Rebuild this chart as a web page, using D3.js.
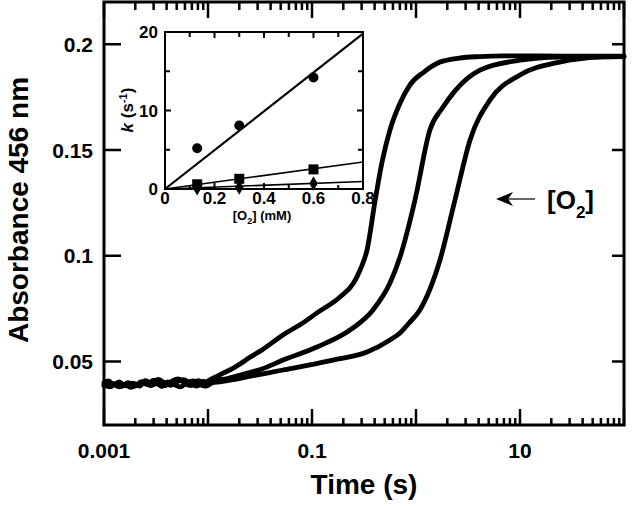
<!DOCTYPE html>
<html><head><meta charset="utf-8">
<script src="https://cdn.jsdelivr.net/npm/d3@7"></script>
<style>
body{margin:0;background:#fff}
text{font-family:"Liberation Sans",Arial,sans-serif;font-weight:bold}
</style>
</head><body>
<svg id="c" width="633" height="506"></svg>
<script>
// ---------------- data (main chart) ----------------
const xTickValues = [0.001, 0.1, 10];
const xTickLabels = ["0.001", "0.1", "10"];
const yTickValues = [0.05, 0.1, 0.15, 0.2];
const yTickLabels = ["0.05", "0.1", "0.15", "0.2"];
const xMajorTicks = [0.001, 0.01, 0.1, 1, 10, 100];
const xMinorMultipliers = [2, 3, 4, 5, 6, 7, 8, 9];

const time1 = [0.001,0.00115,0.0013,0.0015,0.0017,0.002,0.0023,0.0026,0.003,0.0034,0.0039,0.0045,0.0052,0.006,0.0069,0.008,0.0092,0.0106,0.0122,0.014,0.017,0.0205,0.0253,0.033,0.0526,0.08,0.1117,0.186,0.25,0.29,0.338,0.404,0.47,0.562,0.7,0.875,1.2,1.7,2.6,4.1,7,15,40,100];
const abs1  = [0.0390,0.0380,0.0396,0.0384,0.0400,0.0388,0.0405,0.0392,0.0412,0.0398,0.0386,0.0408,0.0418,0.0396,0.0386,0.0410,0.0400,0.0416,0.0430,0.0445,0.0465,0.0490,0.0520,0.0555,0.0626,0.0680,0.0730,0.0805,0.0870,0.0933,0.1027,0.1260,0.1440,0.1595,0.1720,0.1808,0.1870,0.1916,0.1935,0.1942,0.1945,0.1945,0.1944,0.1944];

const time2 = [0.001,0.0011,0.00125,0.0014,0.0016,0.0019,0.0022,0.0025,0.0029,0.0033,0.0038,0.0044,0.005,0.0058,0.0067,0.0078,0.009,0.0104,0.012,0.015,0.0217,0.033,0.0526,0.1117,0.232,0.386,0.562,0.702,0.978,1.36,1.8,2.37,4.12,10,24,60,100];
const abs2  = [0.0400,0.0408,0.0392,0.0404,0.0386,0.0398,0.0384,0.0410,0.0396,0.0416,0.0400,0.0388,0.0404,0.0414,0.0398,0.0384,0.0406,0.0396,0.0412,0.0418,0.0440,0.0465,0.0507,0.0569,0.0649,0.0744,0.0871,0.0994,0.1264,0.1595,0.1700,0.1780,0.1878,0.1925,0.1940,0.1942,0.1942];

const time3 = [0.001,0.0012,0.0014,0.0016,0.0018,0.0021,0.0024,0.0028,0.0032,0.0036,0.0041,0.0047,0.0054,0.0062,0.0072,0.0083,0.0096,0.011,0.0128,0.0174,0.025,0.0526,0.159,0.338,0.562,0.702,0.85,1.09,1.7,2.37,3.31,5.15,10,24,58.7,100];
const abs3  = [0.0384,0.0396,0.0380,0.0392,0.0378,0.0390,0.0402,0.0386,0.0396,0.0382,0.0404,0.0392,0.0380,0.0398,0.0408,0.0392,0.0384,0.0400,0.0404,0.0415,0.0430,0.0460,0.0507,0.0545,0.0602,0.0635,0.0680,0.0744,0.0980,0.1264,0.1548,0.1737,0.1855,0.1916,0.1940,0.1942];

// ---------------- data (inset) ----------------
const o2Conc    = [0.13, 0.30, 0.60];
const kCircle   = [5.2, 8.1, 14.2];
const kSquare   = [0.6, 1.3, 2.5];
const kDiamond  = [0.1, 0.2, 0.7];
const fitX      = [0, 0.8];
const fitCircle = [0, 19.8];
const fitSquare = [0, 3.45];
const fitDiamond= [0, 0.95];
const insetXTicks = [0, 0.2, 0.4, 0.6, 0.8];
const insetXMinor = [0.1, 0.3, 0.5, 0.7];
const insetXLabels = ["0", "0.2", "0.4", "0.6", "0.8"];
const insetYTicks = [0, 10, 20];
const insetYMinor = [5, 15];
const insetYLabels = ["0", "10", "20"];

// ---------------- drawing ----------------
const svg = d3.select("#c");
const PL = 104, PR = 624, PT = 2, PB = 425;
const xs = d3.scaleLog().domain([0.001, 100]).range([PL, PR]);
const ys = d3.scaleLinear().domain([0.02, 0.22]).range([PB, PT]);
const minorX = [];
xMajorTicks.slice(0, -1).forEach(dec => xMinorMultipliers.forEach(m => minorX.push(dec * m)));

// curves
const curveGen = d3.line().x(d => xs(d[0])).y(d => ys(d[1])).curve(d3.curveMonotoneX);
[[time1, abs1], [time2, abs2], [time3, abs3]].forEach(s => {
  svg.append("path").attr("d", curveGen(s[0].map((t, i) => [t, s[1][i]])))
    .attr("fill", "none").attr("stroke", "#000").attr("stroke-width", 4.8)
    .attr("stroke-linejoin", "round").attr("stroke-linecap", "round");
});

// frame
svg.append("rect").attr("x", PL).attr("y", PT).attr("width", PR - PL).attr("height", PB - PT)
  .attr("fill", "none").attr("stroke", "#000").attr("stroke-width", 3);

// tick labels
xTickValues.forEach((v, i) => {
  svg.append("text").attr("x", xs(v)).attr("y", 458).attr("text-anchor", "middle")
    .attr("font-size", 21).text(xTickLabels[i]);
});
yTickValues.forEach((v, i) => {
  svg.append("text").attr("x", 93).attr("y", ys(v) + 7.5).attr("text-anchor", "end")
    .attr("font-size", 21).text(yTickLabels[i]);
});

// axis titles
svg.append("text").attr("x", 364).attr("y", 494).attr("text-anchor", "middle")
  .attr("font-size", 28).text("Time (s)");
svg.append("text").attr("transform", "translate(28,210) rotate(-90)").attr("text-anchor", "middle")
  .attr("font-size", 28).text("Absorbance 456 nm");

// annotation arrow + [O2]
svg.append("line").attr("x1", 535).attr("y1", 199).attr("x2", 506).attr("y2", 199)
  .attr("stroke", "#000").attr("stroke-width", 1.2);
svg.append("path").attr("d", "M496,199 L513,192 L508,199 L513,206 Z").attr("fill", "#000");
const o2 = svg.append("text").attr("x", 547).attr("y", 209).attr("font-size", 26);
o2.append("tspan").text("[O");
o2.append("tspan").attr("dy", 9).attr("font-size", 17).text("2");
o2.append("tspan").attr("dy", -9).text("]");

// ---------------- inset ----------------
const iL = 165, iR = 363, iT = 32, iB = 189;
const ix = d3.scaleLinear().domain([0, 0.8]).range([iL, iR]);
const iy = d3.scaleLinear().domain([0, 20]).range([iB, iT]);
svg.append("rect").attr("x", iL).attr("y", iT).attr("width", iR - iL).attr("height", iB - iT).attr("fill", "#fff");

const iline = d3.line().x(d => ix(d[0])).y(d => iy(d[1]));
[fitCircle, fitSquare, fitDiamond].forEach((fy, k) => {
  svg.append("path").attr("d", iline(fitX.map((v, i) => [v, fy[i]])))
    .attr("fill", "none").attr("stroke", "#000").attr("stroke-width", k === 0 ? 2.2 : 1.6);
});
o2Conc.forEach((c, i) => {
  svg.append("circle").attr("cx", ix(c)).attr("cy", iy(kCircle[i])).attr("r", 5).attr("fill", "#000");
  svg.append("rect").attr("x", ix(c) - 5).attr("y", iy(kSquare[i]) - 5).attr("width", 10).attr("height", 10).attr("fill", "#000");
  svg.append("path").attr("d", d3.symbol().type(d3.symbolDiamond).size(60)())
    .attr("transform", `translate(${ix(c)},${iy(kDiamond[i])})`).attr("fill", "#000");
});
svg.append("rect").attr("x", iL).attr("y", iT).attr("width", iR - iL).attr("height", iB - iT)
  .attr("fill", "none").attr("stroke", "#000").attr("stroke-width", 2);

insetXTicks.forEach((v, i) => {
  svg.append("text").attr("x", ix(v)).attr("y", 204).attr("text-anchor", "middle").attr("font-size", 17)
    .text(insetXLabels[i]);
});
insetYTicks.forEach((v, i) => {
  svg.append("text").attr("x", 158).attr("y", iy(v) + 6).attr("text-anchor", "end").attr("font-size", 17)
    .text(insetYLabels[i]);
});
const xl = svg.append("text").attr("x", 262).attr("y", 220).attr("text-anchor", "middle").attr("font-size", 13);
xl.append("tspan").text("[O");
xl.append("tspan").attr("dy", 4).attr("font-size", 9).text("2");
xl.append("tspan").attr("dy", -4).text("] (mM)");
const yl = svg.append("text").attr("transform", "translate(133,110) rotate(-90)").attr("text-anchor", "middle").attr("font-size", 17);
yl.append("tspan").attr("font-style", "italic").text("k");
yl.append("tspan").text(" (s");
yl.append("tspan").attr("dy", -6).attr("font-size", 11).text("-1");
yl.append("tspan").attr("dy", 6).text(")");

// ---------------- ticks (drawn last, as plain path segments) ----------------
function tickPath(vals, pos, fixed, len, horiz, w) {
  let d = "";
  vals.forEach(v => {
    const p = pos(v);
    d += horiz ? `M${p},${fixed}V${fixed + len}` : `M${fixed},${p}H${fixed + len}`;
  });
  svg.append("path").attr("d", d).attr("fill", "none").attr("stroke", "#000").attr("stroke-width", w);
}
tickPath(xMajorTicks, xs, PB, -16, true, 2.5);
tickPath(minorX, xs, PB, -7, true, 2.5);
tickPath(xMajorTicks, xs, PT, 16, true, 2.5);
tickPath(minorX, xs, PT, 8, true, 2.5);
tickPath(yTickValues, ys, PL, 17, false, 2.5);
tickPath(yTickValues, ys, PR, -12, false, 2.5);
tickPath(insetXTicks, ix, iB, -6, true, 2);
tickPath(insetXMinor, ix, iB, -4, true, 2);
tickPath(insetXTicks, ix, iT, 6, true, 2);
tickPath(insetXMinor, ix, iT, 5, true, 2);
tickPath(insetYTicks, iy, iL, 6, false, 2);
tickPath(insetYMinor, iy, iL, 5, false, 2);
tickPath(insetYTicks, iy, iR, -6, false, 2);
tickPath(insetYMinor, iy, iR, -5, false, 2);
</script>
</body></html>
